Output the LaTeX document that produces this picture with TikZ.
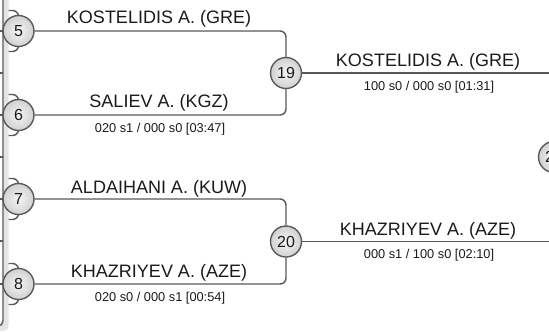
\documentclass[tikz,border=0pt]{standalone}
\usepackage{fontspec}
\setmainfont{Liberation Sans}
\usetikzlibrary{backgrounds}
\definecolor{linegray}{HTML}{595959}
\definecolor{stripgray}{HTML}{E4E4E4}
\definecolor{txt}{HTML}{1A1A1A}
\tikzset{
  conn/.style={draw=linegray, line width=1.4pt, rounded corners=6pt},
  matchc/.style={circle, draw=linegray, line width=1.4pt, inner sep=0pt, minimum size=31pt,
    inner color=white!96!black, outer color=black!18, text=txt, font=\fontsize{16}{16}\selectfont},
  pname/.style={anchor=base, text=txt, inner sep=0pt, font=\fontsize{18}{20}\selectfont},
  pscore/.style={anchor=base, text=txt, inner sep=0pt, font=\fontsize{12.8}{14}\selectfont},
}
\begin{document}
\begin{tikzpicture}[x=1pt,y=-1pt]
\useasboundingbox (0,0) rectangle (549,333);
\clip (0,0) rectangle (549,333);
% left strip (previous round panel)
\fill[stripgray, rounded corners=5pt] (-10,-10) rectangle (8.5,331);
\fill[white, rounded corners=5pt] (-10,-10) rectangle (3,326);
\draw[draw=linegray, line width=1.4pt, rounded corners=5pt] (3,-10) -- (3,326) -- (-10,326);
\foreach \yy in {31,73,115,157,199,241,284} {\draw[draw=linegray, line width=1.2pt] (-1,\yy) -- (3,\yy);}

% match circles
\node[matchc] (c5) at (18.5,31) {5};
\node[matchc] (c6) at (18.5,115) {6};
\node[matchc] (c7) at (18.5,199) {7};
\node[matchc] (c8) at (18.5,284) {8};
\node[matchc] (c19) at (286,73) {19};
\node[matchc] (c20) at (286,241.5) {20};
\node[matchc] (c21) at (554,157) {21};

% free ends
\foreach \n/\yy in {5/31,6/115,7/199,8/284} {
  \coordinate (t\n) at (3,\yy-20.5);
  \coordinate (b\n) at (3,\yy+20.5);
}
\coordinate (r19) at (560,73);
\coordinate (r20) at (560,241.5);

\begin{scope}[on background layer]
  \foreach \n in {5,6,7,8} {\draw[conn] (t\n) -| (c\n) |- (b\n);}
  \draw[conn] (c5) -| (c19);
  \draw[conn] (c6) -| (c19);
  \draw[conn] (c7) -| (c20);
  \draw[conn] (c8) -| (c20);
  \draw[conn] (c19) -- (r19);
  \draw[conn] (c20) -- (r20);
\end{scope}

% names and scores
\node[pname] (n5) at (159,23) {KOSTELIDIS A. (GRE)};
\node[pname] (n6) at (159,107) {SALIEV A. (KGZ)};
\node[pscore] (s6) at (160,132.5) {020 s1 / 000 s0 [03:47]};
\node[pname] (n7) at (159,193) {ALDAIHANI A. (KUW)};
\node[pname] (n8) at (159,277) {KHAZRIYEV A. (AZE)};
\node[pscore] (s8) at (160,301) {020 s0 / 000 s1 [00:54]};
\node[pname] (n19) at (428,66) {KOSTELIDIS A. (GRE)};
\node[pscore] (s19) at (429,90.5) {100 s0 / 000 s0 [01:31]};
\node[pname] (n20) at (428,235) {KHAZRIYEV A. (AZE)};
\node[pscore] (s20) at (429,258.5) {000 s1 / 100 s0 [02:10]};
\end{tikzpicture}
\end{document}
